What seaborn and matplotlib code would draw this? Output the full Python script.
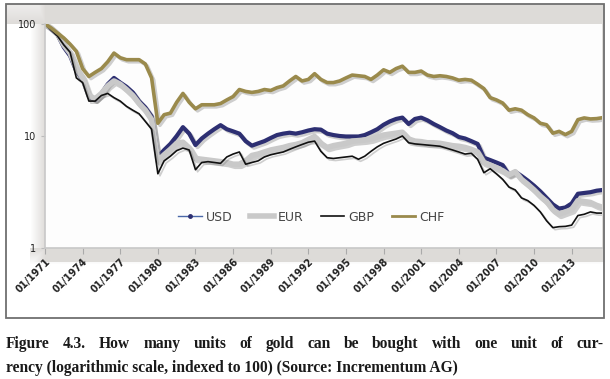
import numpy as np
import pandas as pd
import seaborn as sns
import matplotlib.pyplot as plt
import matplotlib.patheffects as pe
from matplotlib.lines import Line2D
from matplotlib.patches import Rectangle

# half-year grid, 1971 .. 2015
years = [1971.0 + 0.5 * i for i in range(90)]

usd = [100, 90, 80, 62, 52, 38, 32, 22.5, 21, 24, 29, 33, 30, 27.5, 24.5, 20.5, 18, 15,
       6.5, 7.5, 8.5, 10, 12, 10.5, 8.3, 9.5, 10.5, 11.5, 12.5, 11.5, 11, 10.5, 9.0, 8.2,
       8.6, 9.0, 9.6, 10.2, 10.5, 10.7, 10.5, 10.8, 11.2, 11.5, 11.4, 10.5, 10.2, 10.0,
       9.9, 9.9, 9.9, 10.2, 10.8, 11.5, 12.6, 13.5, 14.2, 14.6, 12.8, 14.2, 14.6, 13.8,
       12.8, 12.0, 11.2, 10.6, 9.8, 9.5, 9.0, 8.5, 6.4, 6.1, 5.8, 5.5, 4.5, 4.8, 4.4, 4.0,
       3.6, 3.2, 2.8, 2.45, 2.25, 2.3, 2.5, 3.05, 3.1, 3.15, 3.25, 3.3]

eur = [100, 92, 82, 65, 55, 40, 33, 23, 21.5, 24, 28, 31, 29, 26, 23, 19.5, 17, 14,
       6.0, 6.8, 7.6, 8.6, 8.8, 7.8, 6.3, 6.2, 6.1, 6.0, 5.9, 5.8, 5.6, 5.6, 6.0, 6.7,
       6.9, 7.2, 7.5, 7.7, 7.9, 8.2, 8.4, 8.7, 9.3, 9.9, 8.6, 7.9, 8.2, 8.4, 8.6, 9.0,
       9.1, 9.2, 9.4, 9.8, 10.2, 10.4, 10.6, 10.8, 9.4, 9.0, 8.9, 8.7, 8.7, 8.6, 8.4,
       8.2, 8.1, 7.9, 7.6, 7.2, 5.8, 5.5, 5.2, 4.9, 4.5, 4.8, 4.1, 3.7, 3.3, 2.9, 2.6,
       2.2, 2.0, 2.1, 2.2, 2.65, 2.6, 2.55, 2.4, 2.3]

gbp = [100, 88, 78, 65, 56, 33, 30, 20.5, 20.5, 23, 24, 22, 20.5, 18.4, 17, 15.8, 13.5,
       11.5, 4.6, 6.0, 6.6, 7.4, 7.8, 7.5, 5.0, 5.8, 5.9, 5.8, 5.7, 6.5, 6.9, 7.2, 5.6,
       5.8, 6.0, 6.5, 6.8, 7.0, 7.2, 7.6, 8.0, 8.4, 8.8, 9.0, 7.3, 6.4, 6.3, 6.4, 6.5,
       6.6, 6.2, 6.6, 7.3, 8.0, 8.6, 9.0, 9.4, 10.0, 8.7, 8.5, 8.4, 8.3, 8.2, 8.1, 7.8,
       7.5, 7.2, 6.9, 7.0, 6.2, 4.7, 5.1, 4.6, 4.1, 3.5, 3.3, 2.8, 2.65, 2.4, 2.1, 1.75,
       1.52, 1.55, 1.56, 1.6, 1.95, 2.0, 2.1, 2.05, 2.05]

chf = [100, 92, 83, 75, 66, 57, 40, 34, 37, 40, 46, 55, 50, 48, 48, 48, 44, 33,
       13, 15.5, 16, 20, 24, 20, 17.5, 19, 19, 19, 19.5, 21, 22.5, 26, 25, 24.5, 25, 26,
       25.5, 27, 28, 31, 34, 31, 32, 36, 32, 30, 30, 31, 33, 35, 34.5, 34, 32, 35, 39,
       37, 40, 42, 37, 37, 38, 35, 34, 34.5, 34, 33, 31.5, 32, 31.5, 29, 26.5, 22, 21,
       19.7, 17, 17.5, 17, 15.5, 14.5, 13, 12.6, 10.6, 11, 10.3, 11, 14, 14.5, 14.2,
       14.3, 14.6]

currencies = ['USD', 'EUR', 'GBP', 'CHF']
colors = {'USD': '#2d2f72', 'EUR': '#c9c9c9', 'GBP': '#111111', 'CHF': '#9a8a4c'}
widths = {'USD': 3.0, 'EUR': 4.0, 'GBP': 1.2, 'CHF': 2.6}

tick_years = list(range(1971, 2014, 3))
tick_labels = ['01/%d' % y for y in tick_years]

caption1 = 'Figure 4.3. How many units of gold can be bought with one unit of cur-'
caption2 = 'rency (logarithmic scale, indexed to 100) (Source: Incrementum AG)'

df = pd.DataFrame({'year': years, 'USD': usd, 'EUR': eur, 'GBP': gbp, 'CHF': chf})
long = df.melt(id_vars='year', var_name='currency', value_name='index')

W, H = 610, 379
fig = plt.figure(figsize=(W / 100, H / 100), dpi=100)

# shaded "3d" backdrop of the chart box
bg = fig.add_axes([0, 0, 1, 1], zorder=-10)
bg.axis('off')
rows = np.arange(H)[:, None] * np.ones((1, W))
cols = np.ones((H, 1)) * np.arange(W)[None, :]
inside = (rows >= 4) & (rows <= 318) & (cols >= 6) & (cols <= 604)
top = 0.55 + 0.45 * np.clip((rows - 6) / 18.0, 0, 1)
top = top * (rows < 24)
left = np.clip((cols - 30) / 15.0, 0, 1) * (rows < 262)
bottom = np.clip((264 - rows) / 16.0, 0, 1) * (rows >= 248) * (cols >= 30)
shade = np.maximum(np.maximum(top, left), bottom) * inside
img = np.ones((H, W, 3))
img -= shade[..., None] * np.array([0.13, 0.14, 0.15])
bg.imshow(img, extent=[0, W, H, 0], aspect='auto')
bg.set_xlim(0, W)
bg.set_ylim(H, 0)
fig.patches.append(Rectangle((6 / W, 1 - 318 / H), 598 / W, 314 / H, transform=fig.transFigure,
                             fill=False, edgecolor='#707070', lw=1.3))

ax = fig.add_axes([45 / W, 1 - 248 / H, 557 / W, 224 / H])
ax.set_facecolor('#fdfdfd')
sns.lineplot(data=long, x='year', y='index', hue='currency', hue_order=currencies,
             palette=colors, size='currency', sizes=widths, size_order=currencies,
             errorbar=None, legend=False, ax=ax)
for line in ax.lines:
    line.set_path_effects([pe.SimpleLineShadow(offset=(1.5, -1.5), shadow_color='#777777', alpha=0.35),
                           pe.Normal()])

ax.set_yscale('log')
ax.set_ylim(1, 100)
ax.set_xlim(1971, 2015.42)
ax.set_yticks([1, 10, 100])
ax.set_yticklabels(['1', '10', '100'])
ax.yaxis.set_minor_locator(plt.NullLocator())
ax.set_xticks(tick_years)
ax.set_xticklabels(tick_labels, rotation=45, ha='right', rotation_mode='anchor',
                   fontsize=7, fontweight='bold', color='#222222')
ax.tick_params(axis='y', labelsize=7, colors='#222222', length=3, color='#bbbbbb')
ax.tick_params(axis='x', length=4, color='#aaaaaa', pad=2)
ax.set_xlabel('')
ax.set_ylabel('')
for side in ['top', 'right']:
    ax.spines[side].set_visible(False)
for side in ['left', 'bottom']:
    ax.spines[side].set_color('#c8c8c8')
    ax.spines[side].set_linewidth(1.2)

handles = [Line2D([], [], color='#4a68a8', lw=1.0, marker='o', ms=2.5,
                  markerfacecolor='#2d2f72', markeredgecolor='#2d2f72'),
           Line2D([], [], color=colors['EUR'], lw=4),
           Line2D([], [], color=colors['GBP'], lw=1.2),
           Line2D([], [], color=colors['CHF'], lw=2)]
ax.legend(handles, currencies, ncol=4, frameon=False, loc='center',
          bbox_to_anchor=(0.478, 0.138), fontsize=9, handlelength=1.9,
          handletextpad=0.3, columnspacing=1.4, labelcolor='#444444')

# caption, first line justified
cap_kw = dict(family='Liberation Serif', fontweight='bold', fontsize=11.2,
              color='#1a1a1a', va='baseline')
renderer = fig.canvas.get_renderer()
words = caption1.split(' ')
texts = [fig.text(0, 1 - 348 / H, w, **cap_kw) for w in words]
wds = [t.get_window_extent(renderer).width for t in texts]
gap = (598 - sum(wds)) / (len(words) - 1)
x = 6.0
for t, w in zip(texts, wds):
    t.set_x(x / W)
    x += w + gap
fig.text(6 / W, 1 - 372 / H, caption2, **cap_kw)

fig.savefig('out.png', dpi=100)
